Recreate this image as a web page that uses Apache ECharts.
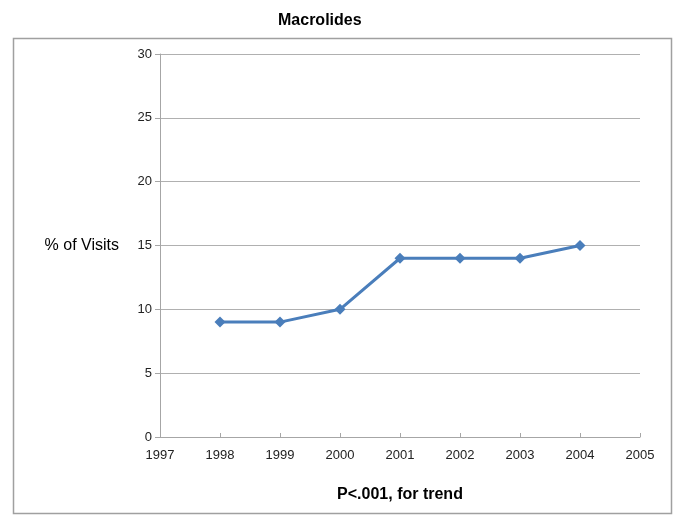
<!DOCTYPE html>
<html>
<head>
<meta charset="utf-8">
<script src="https://cdn.jsdelivr.net/npm/echarts@6/dist/echarts.min.js"></script>
<style>
  html, body { margin: 0; padding: 0; background: #fff; }
  #chart { width: 685px; height: 526px; }
</style>
</head>
<body>
<div id="chart"></div>
<script>
// data
var years = [1998, 1999, 2000, 2001, 2002, 2003, 2004];
var visits = [9, 9, 10, 14, 14, 14, 15];

var chart = echarts.init(document.getElementById('chart'));

var pts = years.map(function (y, i) { return [y, visits[i]]; });

var option = {
    animation: false,
    textStyle: { fontFamily: 'Liberation Sans, Arial, sans-serif' },
    title: {
        text: 'Macrolides',
        left: 273,
        top: 8,
        textStyle: { fontSize: 16, fontWeight: 'bold', color: '#000' }
    },
    graphic: [{
        type: 'rect',
        shape: { x: 13.5, y: 38.5, width: 658, height: 475 },
        style: { fill: 'none', stroke: '#a0a0a0', lineWidth: 1.5 },
        z: -1
    }],
    grid: { left: 160, right: 45, top: 54, bottom: 89 },
    xAxis: {
        type: 'value',
        min: 1997,
        max: 2005,
        interval: 1,
        name: 'P<.001, for trend',
        nameLocation: 'middle',
        nameGap: 50,
        nameTextStyle: { fontSize: 16, fontWeight: 'bold', color: '#000' },
        axisLine: { lineStyle: { color: '#a6a6a6' } },
        axisTick: { inside: true, length: 4, lineStyle: { color: '#a6a6a6' } },
        axisLabel: { color: '#222', fontSize: 13, margin: 12, formatter: function (v) { return String(v); } },
        splitLine: { show: false }
    },
    yAxis: {
        type: 'value',
        min: 0,
        max: 30,
        interval: 5,
        name: '% of Visits',
        nameLocation: 'middle',
        nameRotate: 0,
        nameGap: 41,
        nameTextStyle: { fontSize: 16, color: '#000', align: 'right' },
        axisLine: { show: true, lineStyle: { color: '#a6a6a6' } },
        axisTick: { show: true, length: 5, lineStyle: { color: '#a6a6a6' } },
        axisLabel: { color: '#222', fontSize: 13, margin: 8 },
        splitLine: { lineStyle: { color: '#b0b0b0' } }
    },
    series: [{
        type: 'line',
        data: pts,
        symbol: 'diamond',
        symbolSize: 11,
        itemStyle: { color: '#4a7ebb' },
        lineStyle: { color: '#4a7ebb', width: 3 }
    }]
};

chart.setOption(option);
</script>
</body>
</html>
